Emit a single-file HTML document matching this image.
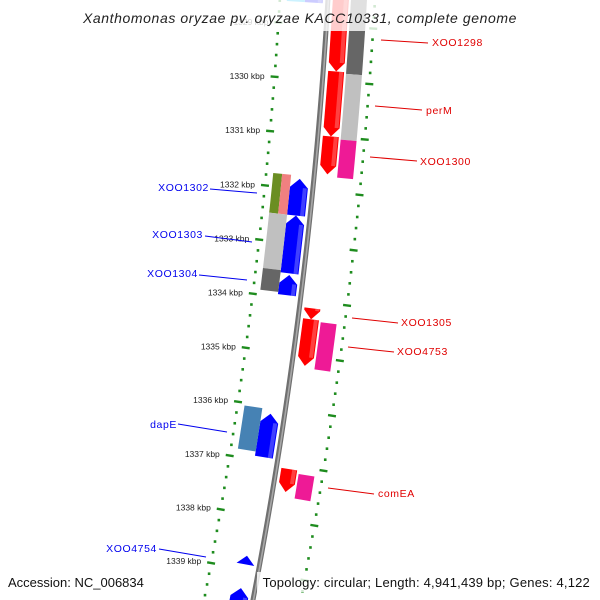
<!DOCTYPE html>
<html><head><meta charset="utf-8"><style>
html,body{margin:0;padding:0;background:#fff;width:600px;height:600px;overflow:hidden;}
svg{display:block;font-family:"Liberation Sans",sans-serif;overflow:hidden;}
</style></head><body>
<svg id="map" width="600" height="600" viewBox="0 0 600 600" xmlns="http://www.w3.org/2000/svg">
<defs><clipPath id="frame"><rect x="0" y="0" width="600" height="600"/></clipPath></defs>
<g id="layer" clip-path="url(#frame)"></g>
</svg>
<script>
// ---- data ----
const tickKbp = [1328,1329,1330,1331,1332,1333,1334,1335,1336,1337,1338,1339,1340];
const tickLabels = ["1328 kbp","1329 kbp","1330 kbp","1331 kbp","1332 kbp","1333 kbp","1334 kbp","1335 kbp","1336 kbp","1337 kbp","1338 kbp","1339 kbp","1340 kbp"];
// forward strand CDS (inner forward track)
const fwdStart = [1328.27,1329.82,1331.00,1334.13,1334.33,1337.07];
const fwdEnd   = [1329.82,1331.00,1331.69,1334.33,1335.18,1337.49];
// forward outer feature track
const fOutStart = [1328.27,1329.85,1331.04,1334.36,1337.13];
const fOutEnd   = [1329.85,1331.04,1331.73,1335.22,1337.58];
const fOutColor = ["#666666","#c0c0c0","#ee1a96","#ee1a96","#ee1a96"];
// reverse strand CDS
const revStart = [1328.2,1331.82,1332.49,1333.58,1336.13,1338.75,1339.35];
const revEnd   = [1328.6,1332.49,1333.55,1333.95,1336.93,1338.91,1339.64];
// reverse outer feature track
const rOutStart = [1328.2,1331.76,1332.49,1333.51,1336.05];
const rOutEnd   = [1328.6,1332.49,1333.51,1333.91,1336.85];
const rOutColor = ["#00bfff","split","#c0c0c0","#666666","#4682b4"];

// ---- geometry ----
const CX=-4305, CY=-274, R=4641;
function ang(k){return (4.38+(k-1330)*0.68)*Math.PI/180;}
function P(r,k){const a=ang(k);return [CX+r*Math.cos(a),CY+r*Math.sin(a)];}
const NS="http://www.w3.org/2000/svg";
const layer=document.getElementById('layer');
function mk(tag,attrs,parent){const e=document.createElementNS(NS,tag);for(const k in attrs)e.setAttribute(k,attrs[k]);(parent||layer).appendChild(e);return e;}
function pts(list){return list.map(p=>p[0].toFixed(2)+","+p[1].toFixed(2)).join(" ");}
function arcPath(r,k1,k2){let d="";const n=40;for(let i=0;i<=n;i++){const p=P(r,k1+(k2-k1)*i/n);d+=(i?"L":"M")+p[0].toFixed(2)+" "+p[1].toFixed(2);}return d;}

// dotted rings & ticks
[[-48,-52,-44],[47,43,51]].forEach(function(ring,ri){
  for(let k=1327.6;k<=1340.2;k+=0.2){
    const kk=Math.round(k*10)/10;
    if(Math.abs(kk-Math.round(kk))<0.01) continue;
    const p=P(R+ring[0],kk);
    const d=mk('rect',{x:p[0]-1.3,y:p[1]-1.3,width:2.6,height:2.6,fill:"#1e8c1e"});
    
    
  }
  tickKbp.forEach(function(k,i){
    const a=P(R+ring[1],k),b=P(R+ring[2],k);
    const t=mk('line',{x1:a[0],y1:a[1],x2:b[0],y2:b[1],stroke:"#1e8c1e","stroke-width":2.4});
    
    
    if(ri===0){
      const lp=P(R-58,k);
      const tx=mk('text',{x:lp[0],y:lp[1]+3,"text-anchor":"end","font-size":"8.5",fill:"#222"});
      tx.textContent=tickLabels[i];
      
      
    }
  });
});

// backbone
const bb1=mk('path',{d:arcPath(R,1327.3,1340.2),stroke:"#707070","stroke-width":5,fill:"none"});


const bb2=mk('path',{d:arcPath(R+0.5,1327.3,1340.2),stroke:"#a8a8a8","stroke-width":1.6,fill:"none"});



function block(r1,r2,s,e,color,name){
  const poly=[P(r1,s),P(r2,s)];
  for(let i=0;i<=6;i++)poly.push(P(r2,s+(e-s)*i/6));
  for(let i=6;i>=0;i--)poly.push(P(r1,s+(e-s)*i/6));
  const g=mk('polygon',{points:pts(poly),fill:color});
  
  
  return g;
}
function arrow(r1,r2,s,e,dir,color,name){
  const ah=0.16, rm=(r1+r2)/2; let poly;
  if(dir>0){const b=Math.max(s,e-ah);poly=[P(r1,s),P(r2,s),P(r2,b),P(rm,e),P(r1,b)];}
  else {const b=Math.min(e,s+ah);poly=[P(rm,s),P(r2,b),P(r2,e),P(r1,e),P(r1,b)];}
  const g=mk('polygon',{points:pts(poly),fill:color});
  
  
  const hs=dir>0?s:Math.min(e,s+ah), he=dir>0?Math.max(s,e-ah):e;
  const h=mk('polygon',{points:pts([P(r2-5,hs),P(r2-1,hs),P(r2-1,he),P(r2-5,he)]),fill:"#ffffff","fill-opacity":0.25});
  
  
}
fwdStart.forEach((s,i)=>arrow(R+5,R+21,s,fwdEnd[i],1,"#ff0000","forward-gene"));
fOutStart.forEach((s,i)=>block(R+23,R+39,s,fOutEnd[i],fOutColor[i],"forward-feature"));
revStart.forEach((s,i)=>arrow(R-23,R-5,s,revEnd[i],-1,"#0000ff","reverse-gene"));
rOutStart.forEach(function(s,i){
  if(rOutColor[i]==="split"){
    block(R-41,R-32,s,rOutEnd[i],"#6b8e23","reverse-feature");
    block(R-32,R-23,s,rOutEnd[i],"#f08080","reverse-feature");
  } else block(R-41,R-23,s,rOutEnd[i],rOutColor[i],"reverse-feature");
});

// gene labels
const labels=[
 ["XOO1298",432,46,381,40,428,43,"#e00000","start"],
 ["perM",426,114,375,106,422,110,"#e00000","start"],
 ["XOO1300",420,165,370,157,417,161,"#e00000","start"],
 ["XOO1305",401,326,352,318,398,323,"#e00000","start"],
 ["XOO4753",397,355,348,347,394,352,"#e00000","start"],
 ["comEA",378,497,328,488,374,494,"#e00000","start"],
 ["XOO1302",209,191,210,189,257,193,"#0000ee","end"],
 ["XOO1303",203,238,205,236,252,242,"#0000ee","end"],
 ["XOO1304",198,277,199,275,247,280,"#0000ee","end"],
 ["dapE",177,428,178,424,227,432,"#0000ee","end"],
 ["XOO4754",157,552,159,549,206,557,"#0000ee","end"]
];
labels.forEach(function(L){
  const ln=mk('line',{x1:L[3],y1:L[4],x2:L[5],y2:L[6],stroke:L[7],"stroke-width":1});
  
  
  const t=mk('text',{x:L[1],y:L[2],"text-anchor":L[8],"font-size":"10.5",fill:L[7],"letter-spacing":"0.6"});
  t.textContent=L[0];
  
  
});

// overlays & titles
const o1=mk('rect',{x:0,y:0,width:600,height:31,fill:"#fff","fill-opacity":0.8});


const tt=mk('text',{x:300,y:23,"text-anchor":"middle","font-size":"14","font-style":"italic",fill:"#222","letter-spacing":"0.6"});
tt.textContent="Xanthomonas oryzae pv. oryzae KACC10331, complete genome";


const o2=mk('rect',{x:0,y:572,width:152,height:28,fill:"#fff","fill-opacity":0.8});


const o3=mk('rect',{x:257,y:572,width:343,height:20,fill:"#fff","fill-opacity":0.8});


const a1=mk('text',{x:8,y:587,"font-size":"13",fill:"#111"});
a1.textContent="Accession: NC_006834";


const a2=mk('text',{x:590,y:587,"text-anchor":"end","font-size":"13",fill:"#111","letter-spacing":"0.2"});
a2.textContent="Topology: circular; Length: 4,941,439 bp; Genes: 4,122";


</script>
</body></html>
